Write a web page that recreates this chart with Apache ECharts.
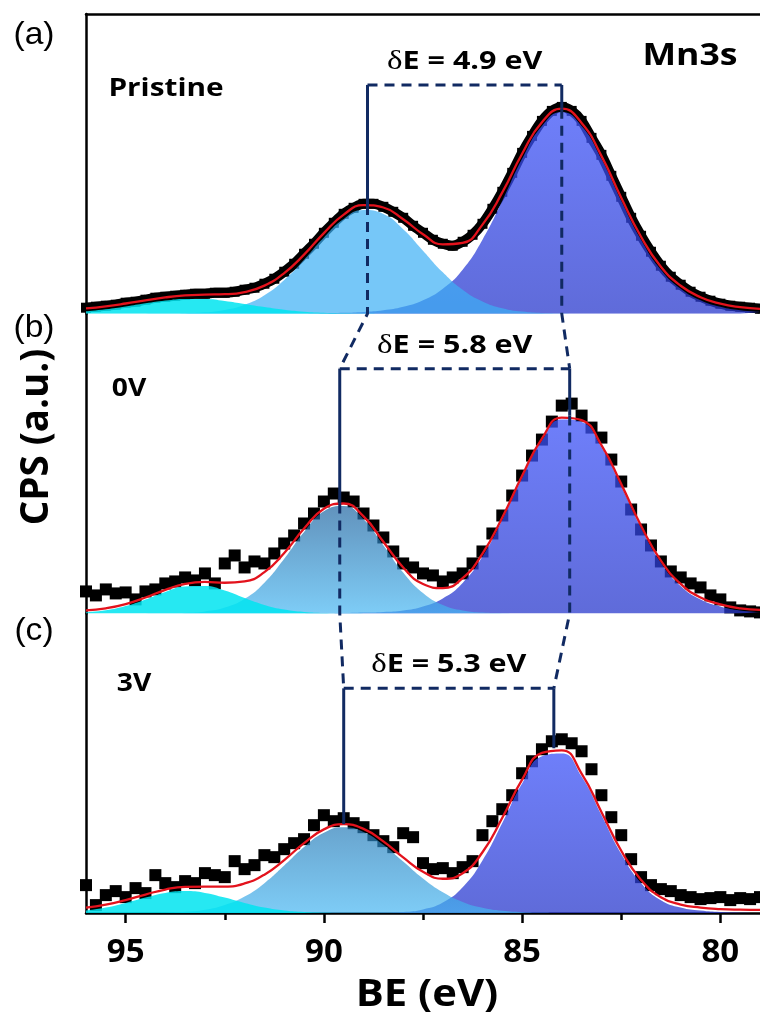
<!DOCTYPE html>
<html>
<head>
<meta charset="utf-8">
<script src="https://cdn.jsdelivr.net/npm/echarts@6/dist/echarts.min.js"></script>
<style>
  html, body { margin: 0; padding: 0; background: #fff; }
  #chart { width: 760px; height: 1016px; }
</style>
</head>
<body>
<div id="chart"></div>
<script>
// Binding energy grid (eV) of the fitted components, high to low
const beFit = [96,95.5,95,94.5,94,93.5,93,92.5,92,91.5,91,90.5,90,89.5,89,88.5,88,87.5,87,86.5,86,85.5,85,84.5,84,83.5,83,82.5,82,81.5,81,80.5,80,79.5,79];
// Binding energy grid (eV) of the measured counts
const bePts = [96,95.75,95.5,95.25,95,94.75,94.5,94.25,94,93.75,93.5,93.25,93,92.75,92.5,92.25,92,91.75,91.5,91.25,91,90.75,90.5,90.25,90,89.75,89.5,89.25,89,88.75,88.5,88.25,88,87.75,87.5,87.25,87,86.75,86.5,86.25,86,85.75,85.5,85.25,85,84.75,84.5,84.25,84,83.75,83.5,83.25,83,82.75,82.5,82.25,82,81.75,81.5,81.25,81,80.75,80.5,80.25,80,79.75,79.5,79.25,79];

// (a) Pristine
const aCounts = [6,7,8,9,11,12,14,16,17,18,19,20,20,21,21,22,24,26,30,35,42,50,60,70,81,91,100,106,110,110,107,102,96,88,81,74,70,68,72,79,90,105,122,141,161,178,193,203,207,203,193,176,159,138,117,96,78,62,48,37,29,22,17,13,10,8,7,6,5];
const aPeak1 = [0,0,0,0,0,0,0,0,0,0,0,0,0.4,0.9,1.8,3.5,7,13.5,25,44,74,113,155,188,202,188,155,113,74,44,25,13.5,7,3.5,1.8];
const aPeak2 = [0,0,0,0,0.1,0.5,1.4,3.8,9.0,18.5,33.8,54.1,76.4,94.9,103.7,99.8,84.6,63.1,41.4,23.9,12.2,5.4,2.1,0.7,0.2,0,0,0,0,0,0,0,0,0,0];
const aPeak3 = [2.3,4.4,7.2,10.4,13.2,14.8,14.7,12.7,9.7,6.6,3.9,2.0,0.9,0.4,0.15,0,0,0,0,0,0,0,0,0,0,0,0,0,0,0,0,0,0,0,0];
const aFit = [5.3,7.4,10.2,13.4,16.3,18.3,19.1,19.5,21.7,28.1,40.7,59.1,80.7,99.2,108.7,106.3,94.6,79.6,69.4,70.9,89.2,121.4,160.1,191.7,205.2,191,158,116,77,47,28,16.5,10,6.5,4.8];

// (b) 0V
const bCounts = [22,18,24,20,21,14,22,24,30,32,36,33,40,30,50,58,46,52,50,60,70,78,90,100,112,120,116,112,100,88,76,62,50,46,40,38,32,36,40,50,62,80,98,118,138,158,174,192,208,210,198,186,176,154,132,104,84,68,52,42,36,30,26,18,14,6,3,2,1];
const bPeak1 = [0,0,0,0,0,0,0,0,0,0,0,0,0.1,0.3,0.8,1.5,3,7,15,30.5,57,93.8,135.7,173,194,191.5,166.4,127.4,85.8,50.8,27.5,14,7,3,1.5];
const bPeak2 = [0,0,0,0,0.1,0.5,2.0,5.8,14.6,30.8,54.7,81.5,102.2,107.6,94.3,68.3,41.0,20.4,8.4,2.9,0.8,0.2,0,0,0,0,0,0,0,0,0,0,0,0,0];
const bPeak3 = [1.1,3.1,7.3,13.9,21.5,27.0,27.5,22.9,15.4,8.5,3.8,1.4,0.4,0.1,0,0,0,0,0,0,0,0,0,0,0,0,0,0,0,0,0,0,0,0,0];
const bFit = [3.1,5.1,9.3,15.9,23.6,29.5,31.5,30.7,32.0,41.3,60.5,84.9,104.7,110.0,97.1,71.8,46.0,29.4,25.4,35.4,59.8,96.0,137.7,175.0,196.0,193.5,168.4,129.4,87.8,52.8,29.5,16,9,5,3.5];

// (c) 3V
const cCounts = [28,8,18,22,16,25,20,38,30,26,32,30,40,38,36,52,44,48,58,56,64,70,74,88,98,92,95,90,86,78,72,66,80,76,50,44,45,40,46,52,78,92,104,118,140,152,164,172,174,170,162,144,118,96,78,54,36,28,24,22,18,16,14,15,16,13,15,14,16];
const cPeak1 = [0,0,0,0,0,0,0,0,0,0,0,0,0,0,0,0.3,1.1,3.7,10.6,25.8,52.6,90.1,129.7,157.0,159.8,136.7,98.3,59.4,30.2,12.9,5.5,2.5,1.0,0.4,0.2];
const cPeak2 = [0,0,0,0.1,0.4,1.3,3.4,8.1,16.6,30.0,47.6,66.1,80.5,86,81.3,68.5,51.6,34.6,20.8,11.1,5.3,2.3,0.9,0.3,0.1,0,0,0,0,0,0,0,0,0,0];
const cPeak3 = [2.5,5.5,10.1,15.5,20.2,22,20.2,15.5,10.1,5.5,2.5,1.0,0.3,0.1,0,0,0,0,0,0,0,0,0,0,0,0,0,0,0,0,0,0,0,0,0];
const cFit = [5.5,8.5,13.1,18.6,23.6,26.3,26.6,26.6,29.7,38.5,53.1,70.1,83.8,89.1,84.3,71.8,55.7,41.3,34.4,39.9,60.9,95.4,133.6,160.3,162.9,139.7,101.3,62.4,33.2,15.9,8.5,5.5,4.0,3.4,3.2];

// Mn3s multiplet splitting: BE of the two peaks and the fitted intensity at each
const splitBE = [[88.9, 84.0], [89.6, 83.8], [89.5, 84.2]];
const splitTop = [[108.7, 205.2], [110.0, 198.0], [89.1, 165.0]];
// Intensity level of the bracket drawn above each doublet
const bracketLevel = [229, 245, 225];

const panelTags = ['(a)', '(b)', '(c)'];
const sampleNames = ['Pristine', '0V', '3V'];
const tickValues = [80, 85, 90, 95];
const minorTickValues = [82.5, 87.5, 92.5];

const chart = echarts.init(document.getElementById('chart'), null, { renderer: 'canvas' });

const gridTops = [14, 313.7, 613.4];
const gridH = 299.7;
const LG = (a, b) => new echarts.graphic.LinearGradient(0, 0, 0, 1, [{ offset: 0, color: a }, { offset: 1, color: b }]);
const pairs = (xs, ys) => xs.map((x, i) => [x, ys[i]]);

const panels = [
  { counts: aCounts, p1: aPeak1, p2: aPeak2, p3: aPeak3, fit: aFit, band: true, size: 10,
    p2Fill: 'rgb(60,175,245)' },
  { counts: bCounts, p1: bPeak1, p2: bPeak2, p3: bPeak3, fit: bFit, band: false, size: 12,
    p2Fill: LG('rgb(30,100,160)', 'rgb(70,182,242)') },
  { counts: cCounts, p1: cPeak1, p2: cPeak2, p3: cPeak3, fit: cFit, band: false, size: 12,
    p2Fill: LG('rgb(40,125,185)', 'rgb(70,182,242)') }
];

function area(vals, color, opacity, i) {
  return {
    type: 'line', xAxisIndex: i, yAxisIndex: i, data: pairs(beFit, vals),
    symbol: 'none', smooth: 0.5,
    lineStyle: { width: 0, opacity: 0 },
    areaStyle: { color: color, opacity: opacity, origin: 'start' },
    z: 2, silent: true
  };
}

const series = [];
panels.forEach((p, i) => {
  if (p.band) {
    series.push({
      type: 'line', xAxisIndex: i, yAxisIndex: i, data: pairs(bePts, p.counts),
      symbol: 'none', smooth: 0.3, lineStyle: { color: '#000', width: 10 }, z: 1, silent: true
    });
  }
  series.push({
    type: 'scatter', xAxisIndex: i, yAxisIndex: i, data: pairs(bePts, p.counts),
    symbol: 'rect', symbolSize: p.size, itemStyle: { color: '#000', opacity: 1 }, z: 1, clip: false, silent: true
  });
  series.push(area(p.p1, LG('rgb(62,84,248)', 'rgb(42,58,205)'), 0.75, i));
  series.push(area(p.p2, p.p2Fill, 0.7, i));
  series.push(area(p.p3, 'rgb(0,228,240)', 0.85, i));
  series.push({
    type: 'line', xAxisIndex: i, yAxisIndex: i, data: pairs(beFit, p.fit),
    symbol: 'none', smooth: 0.5, lineStyle: { color: '#e3121c', width: 2.3 }, z: 4, silent: true
  });
});

const axisBlack = { show: true, onZero: false, lineStyle: { color: '#000', width: 2.5 } };
const xAxes = gridTops.map((t, i) => ({
  type: 'value', gridIndex: i, min: 79, max: 96, inverse: true,
  position: i === 0 ? 'top' : 'bottom',
  axisLine: i === 1 ? { show: false } : axisBlack,
  splitLine: { show: false },
  axisTick: i === 2
    ? { show: true, inside: false, length: 10, customValues: tickValues, lineStyle: { color: '#000', width: 2.5 } }
    : { show: false },
  axisLabel: i === 2
    ? { show: true, customValues: tickValues, margin: 23, color: '#000',
        fontFamily: '"Open Sans", sans-serif', fontWeight: 'bold', fontSize: 33 }
    : { show: false }
}));
// minor ticks at the half-way marks
xAxes.push({
  type: 'value', gridIndex: 2, min: 79, max: 96, inverse: true, position: 'bottom',
  axisLine: { show: false }, splitLine: { show: false }, axisLabel: { show: false },
  axisTick: { show: true, length: 7, customValues: minorTickValues, lineStyle: { color: '#000', width: 2.5 } }
});

chart.setOption({
  animation: false,
  backgroundColor: '#fff',
  grid: gridTops.map(t => ({ left: 86, top: t, width: 677, height: gridH })),
  xAxis: xAxes,
  yAxis: gridTops.map((t, i) => ({
    type: 'value', gridIndex: i, min: 0, max: 300, position: 'left',
    axisLine: axisBlack, axisTick: { show: false }, axisLabel: { show: false }, splitLine: { show: false }
  })),
  series: series
});

// ---- annotations: tags, titles and the multiplet-splitting brackets ----
const NAVY = '#112a62';
const px = (g, be, v) => chart.convertToPixel({ gridIndex: g }, [be, v]);

function text(str, x, y, font, sx, extra) {
  return Object.assign({
    type: 'text', x: x, y: y, scaleX: sx || 1, z: 30, silent: true,
    style: { text: str, font: font, fill: '#000', align: 'center', verticalAlign: 'middle',
             textAlign: 'center', textVerticalAlign: 'middle' }
  }, extra || {});
}
function line(points, dashed) {
  return {
    type: 'polyline', z: 20, silent: true,
    shape: { points: points },
    style: { stroke: NAVY, lineWidth: 3, fill: null, lineDash: dashed ? [10, 7] : null }
  };
}

const g = [];
const sans = '"Open Sans", sans-serif';
const tagY = [35, 328, 631];
panelTags.forEach((t, i) => g.push(text(t, 34, tagY[i], '32px "Liberation Sans", Arial, sans-serif', 1.05)));
g.push(text(sampleNames[0], 166, 89, 'bold 25px ' + sans, 1.19));
g.push(text(sampleNames[1], 129, 389, 'bold 25px ' + sans, 1.13));
g.push(text(sampleNames[2], 134, 684, 'bold 25px ' + sans, 1.13));
g.push(text('Mn3s', 690, 56, 'bold 31px ' + sans, 1.15));
g.push(text('CPS (a.u.)', 37, 437, 'bold 36px ' + sans, 1.07, { rotation: Math.PI / 2, scaleY: 1.1 }));
g.push(text('BE (eV)', 427, 995, 'bold 38px ' + sans, 1.1));

for (let i = 0; i < 3; i++) {
  const [hiBE, loBE] = splitBE[i];
  const [hiTop, loTop] = splitTop[i];
  const lvl = bracketLevel[i];
  const L = px(i, hiBE, lvl), R = px(i, loBE, lvl);
  // bracket across the doublet
  g.push(line([L, R], true));
  // solid drops from the bracket to each peak
  g.push(line([L, px(i, hiBE, hiTop)], false));
  g.push(line([R, px(i, loBE, loTop)], false));
  // dashed drops below the peaks, joined to the next panel's bracket
  if (i < 2) {
    const nL = splitBE[i + 1][0], nR = splitBE[i + 1][1], nl = bracketLevel[i + 1];
    g.push(line([px(i, hiBE, hiTop), px(i, hiBE, 0), px(i + 1, nL, nl)], true));
    g.push(line([px(i, loBE, loTop), px(i, loBE, 0), px(i + 1, nR, nl)], true));
  }
  const dE = (hiBE - loBE).toFixed(1);
  const midX = (L[0] + R[0]) / 2;
  g.push({
    type: 'text', x: midX, y: L[1] - 23, scaleX: 1.22, z: 30, silent: true,
    style: {
      text: '{d|δ}E = ' + dE + ' eV',
      font: 'bold 25px ' + sans, fill: '#000',
      align: 'center', verticalAlign: 'middle', textAlign: 'center', textVerticalAlign: 'middle',
      rich: { d: { font: '27px "Liberation Serif", serif', fill: '#000' } }
    }
  });
}

chart.setOption({ graphic: g });
</script>
</body>
</html>
